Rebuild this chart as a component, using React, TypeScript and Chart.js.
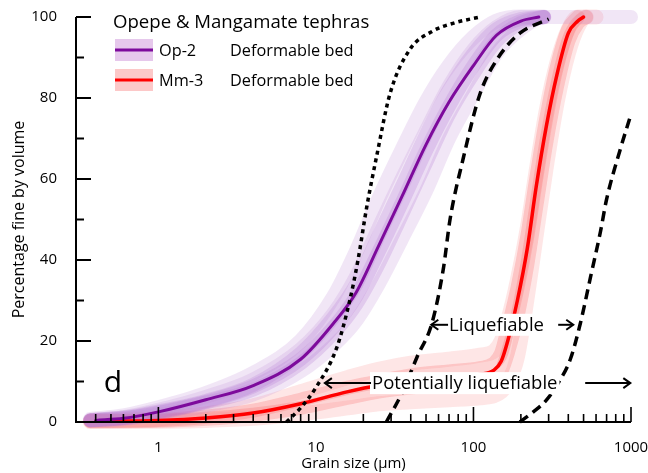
import React, { useEffect, useRef } from "react";
import { Chart, registerables } from "chart.js";
Chart.register(...registerables);

const FONT = "'Open Sans', 'DejaVu Sans', sans-serif";

// ---- axis settings ----
const X_MIN = 0.3;
const X_MAX = 1000;
const X_TICKS = [1, 10, 100, 1000];
const Y_MIN = 0;
const Y_MAX = 100;

// ---- Op-2 (purple) main curve ----
const OP2_X = [0.4, 0.6, 1, 2, 4, 8, 13, 18, 25, 35, 50, 70, 100, 140, 200, 260];
const OP2_Y = [0.4, 0.9, 2.5, 5.5, 9, 15.5, 24.5, 32, 43.5, 55.5, 68.5, 79, 88, 95.5, 99, 100];

// ---- Op-2 individual samples (light bands) ----
const OP2_SAMPLE_X = [0.37, 0.6, 1, 2, 4, 8, 13, 18, 25, 35, 50, 70, 100, 140, 200, 280];
const OP2_S1 = [0.6, 1.5, 3.5, 7, 12, 20, 31, 42, 55, 67, 79, 88, 95, 99, 100, 100];
const OP2_S2 = [0.5, 1.2, 3, 6.2, 10.5, 18, 27, 36, 48, 60, 72, 83, 92, 97.5, 100, 100];
const OP2_S3 = [0.4, 0.9, 2.2, 4.8, 8, 14.5, 22, 29, 39, 51, 64, 76, 86, 94, 98.5, 100];
const OP2_S4_X = [0.37, 0.6, 1, 2, 4, 8, 13, 18, 25, 35, 50, 70, 100, 140, 200, 280, 1000];
const OP2_S4 = [0.3, 0.7, 1.8, 4, 6.8, 12.5, 19, 25, 34, 45, 57, 70, 81, 91, 97, 100, 100];
const OP2_S5 = [0.5, 1.1, 2.6, 5.2, 9.2, 17, 26, 34, 46, 58, 71, 82, 91, 97, 99.5, 100];
const OP2_S6 = [0.4, 1.0, 2.4, 5, 8.8, 15.5, 23.5, 31, 42, 54, 67, 78, 88, 95.5, 99, 100];

// ---- Mm-3 (red) main curve ----
const MM3_X = [0.4, 1, 2, 4, 8, 16, 25, 40, 70, 110, 135, 150, 165, 190, 220, 250, 290, 340, 400, 460, 500];
const MM3_Y = [0.2, 0.4, 1.0, 2.2, 4.5, 7.5, 9, 10, 11, 11.8, 12.8, 15, 20, 30, 43, 58, 73, 86, 96, 99, 100];

// ---- Mm-3 individual samples (light bands) ----
const MM3_SAMPLE_X = [0.37, 1, 2, 4, 8, 16, 25, 40, 70, 110, 135, 150, 165, 190, 220, 250, 290, 340, 400, 460, 520, 600];
const MM3_S1 = [0.3, 0.8, 2, 4, 7.5, 11, 13, 14.5, 15.5, 16.5, 17.5, 20, 25, 35, 48, 62, 77, 89, 97, 100, 100, null];
const MM3_S2 = [0.1, 0.2, 0.4, 0.9, 2, 3.5, 4.5, 5, 5.5, 6, 6.5, 7.5, 9.5, 16, 31, 46, 63, 79, 91, 97.5, 100, 100];
const MM3_S3 = [0.3, 0.5, 1.3, 2.8, 5.5, 8.5, 10, 11.5, 12.5, 13.3, 14.5, 17, 23, 33, 46, 60, 75, 88, 97, 100, null, null];
const MM3_S4 = [0.2, 0.3, 0.8, 1.8, 3.5, 6, 7.5, 8.5, 9.3, 10, 10.8, 12.5, 17, 26, 39, 53, 69, 83, 94, 98.5, 100, null];

// ---- liquefaction boundary curves ----
const BOUND1_X = [6.5, 8, 10, 13.6, 16.4, 18.5, 21, 24.4, 29.5, 39.5, 55, 75, 110];
const BOUND1_Y = [0, 3.5, 8.5, 18.5, 30, 40, 53, 66, 81, 92, 96.5, 98.5, 100];
const BOUND2_X = [28, 35, 43.8, 54.6, 64.5, 71, 86, 110, 141, 197, 300];
const BOUND2_Y = [0, 7, 16, 24.5, 38, 50, 65, 81, 89.5, 96, 99.5];
const BOUND3_X = [197, 240, 292, 350, 412, 478, 555, 640, 700, 850, 1000];
const BOUND3_Y = [0, 2.5, 5.5, 10, 15.5, 24.5, 36, 47, 55, 67, 76];

// ---- annotations (data coordinates) ----
const LIQ_LABEL = "Liquefiable";
const LIQ_Y = 24;
const LIQ_LEFT_TIP = 54;
const LIQ_TEXT_X = 70;
const LIQ_RIGHT_START = 345;
const LIQ_RIGHT_TIP = 430;

const POT_LABEL = "Potentially liquefiable";
const POT_Y = 9.6;
const POT_LEFT_TIP = 11.4;
const POT_TEXT_X = 22.7;
const POT_RIGHT_START = 512;
const POT_RIGHT_TIP = 990;

const PANEL_LABEL = "d";
const LEGEND_TITLE = "Opepe & Mangamate tephras";
const LEGEND_NAMES = ["Op-2", "Mm-3"];
const LEGEND_DESC = ["Deformable bed", "Deformable bed"];

const PURPLE = "#7d0a9c";
const RED = "#ff0000";

function pts(xs: number[], ys: (number | null)[]) {
  return xs.map((x, i) => ({ x, y: ys[i] }));
}

function drawArrow(ctx: CanvasRenderingContext2D, x1: number, x2: number, y: number) {
  const dir = x2 > x1 ? 1 : -1;
  ctx.beginPath();
  ctx.moveTo(x1, y);
  ctx.lineTo(x2, y);
  ctx.stroke();
  ctx.beginPath();
  ctx.moveTo(x2 - dir * 7, y - 5);
  ctx.lineTo(x2, y);
  ctx.lineTo(x2 - dir * 7, y + 5);
  ctx.stroke();
}

const overlayPlugin = {
  id: "overlay",
  afterDatasetsDraw(chart: any) {
    const { ctx, scales } = chart;
    const xs = scales.x;
    const ys = scales.y;
    const X = (v: number) => xs.getPixelForValue(v);
    const Y = (v: number) => ys.getPixelForValue(v);
    ctx.save();

    // annotations
    ctx.font = `18.5px ${FONT}`;
    ctx.textBaseline = "middle";
    ctx.textAlign = "left";
    ctx.lineWidth = 2;
    ctx.strokeStyle = "#000";
    ctx.fillStyle = "#000";

    const drawLabel = (text: string, tx: number, ty: number) => {
      const w = ctx.measureText(text).width;
      ctx.fillStyle = "#fff";
      ctx.fillRect(tx - 2, ty - 11, w + 4, 22);
      ctx.fillStyle = "#000";
      ctx.fillText(text, tx, ty + 1);
      return w;
    };

    {
      const ty = Y(LIQ_Y);
      const tx = X(LIQ_TEXT_X);
      drawLabel(LIQ_LABEL, tx, ty);
      drawArrow(ctx, tx - 1, X(LIQ_LEFT_TIP), ty);
      drawArrow(ctx, X(LIQ_RIGHT_START), X(LIQ_RIGHT_TIP), ty);
    }
    {
      const ty = Y(POT_Y);
      const tx = X(POT_TEXT_X);
      drawLabel(POT_LABEL, tx, ty);
      drawArrow(ctx, tx - 1, X(POT_LEFT_TIP), ty);
      drawArrow(ctx, X(POT_RIGHT_START), X(POT_RIGHT_TIP), ty);
    }

    // axes
    const left = X(X_MIN);
    const right = X(X_MAX);
    const bottom = Y(Y_MIN);
    const top = Y(Y_MAX);
    ctx.strokeStyle = "#000";
    ctx.lineWidth = 2;
    ctx.lineCap = "butt";
    ctx.beginPath();
    ctx.moveTo(left, top);
    ctx.lineTo(left, bottom);
    ctx.lineTo(right, bottom);
    ctx.stroke();

    for (let v = Y_MIN; v <= Y_MAX; v += 10) {
      const len = v % 20 === 0 ? 15 : 8;
      const py = Y(v);
      ctx.beginPath();
      ctx.moveTo(left, py);
      ctx.lineTo(left + len, py);
      ctx.stroke();
    }
    ctx.lineWidth = 1.6;
    for (let e = -1; e <= 3; e++) {
      for (let m = 1; m <= 9; m++) {
        const v = m * Math.pow(10, e);
        if (v < X_MIN * 1.2 || v > X_MAX * 1.001) continue;
        const len = m === 1 ? 15 : 8;
        const px = X(v);
        ctx.beginPath();
        ctx.moveTo(px, bottom);
        ctx.lineTo(px, bottom - len);
        ctx.stroke();
      }
    }

    // panel label
    ctx.font = `30px ${FONT}`;
    ctx.textBaseline = "alphabetic";
    ctx.fillStyle = "#000";
    ctx.fillText(PANEL_LABEL, X(0.45), Y(10) + 10);

    // legend
    ctx.textBaseline = "middle";
    ctx.font = `18.6px ${FONT}`;
    ctx.fillText(LEGEND_TITLE, 113, 23);
    const rows = [
      { fill: "rgb(230,200,236)", line: PURPLE, y: 50 },
      { fill: "rgb(252,200,200)", line: RED, y: 80 },
    ];
    rows.forEach((r, i) => {
      ctx.fillStyle = r.fill;
      ctx.fillRect(115, r.y - 11, 38, 22);
      ctx.strokeStyle = r.line;
      ctx.lineWidth = 3;
      ctx.beginPath();
      ctx.moveTo(115, r.y);
      ctx.lineTo(153, r.y);
      ctx.stroke();
      ctx.fillStyle = "#000";
      ctx.font = `16.3px ${FONT}`;
      ctx.fillText(LEGEND_NAMES[i], 159, r.y + 1);
      ctx.fillText(LEGEND_DESC[i], 230, r.y + 1);
    });

    ctx.restore();
  },
};

export default function App() {
  const ref = useRef<HTMLCanvasElement>(null);
  useEffect(() => {
    document.body.style.margin = "0";
    if (!ref.current) return;

    const band = (xs: number[], ys: (number | null)[], color: string, width = 14) => ({
      data: pts(xs, ys),
      borderColor: color,
      backgroundColor: color,
      borderWidth: width,
      pointRadius: 0,
      borderCapStyle: "round",
      borderJoinStyle: "round",
      cubicInterpolationMode: "monotone",
      spanGaps: false,
      fill: false,
      clip: false,
      order: 3,
    });
    const line = (xs: number[], ys: number[], color: string, width: number, dash: number[] | undefined, order: number) => ({
      data: pts(xs, ys),
      borderColor: color,
      backgroundColor: color,
      borderWidth: width,
      borderDash: dash || [],
      pointRadius: 0,
      borderCapStyle: dash ? "butt" : "round",
      cubicInterpolationMode: "monotone",
      fill: false,
      clip: false,
      order,
    });

    const pLight = "rgba(190,140,215,0.22)";
    const pMid = "rgba(170,100,205,0.22)";
    const rLight = "rgba(250,130,130,0.2)";
    const rMid = "rgba(245,80,80,0.24)";

    const datasets: any[] = [
      line(BOUND1_X, BOUND1_Y, "#000", 3.5, [4, 4], 0),
      line(BOUND2_X, BOUND2_Y, "#000", 3.5, [10, 6], 0),
      line(BOUND3_X, BOUND3_Y, "#000", 3.5, [10, 6], 0),
      line(OP2_X, OP2_Y, PURPLE, 3, undefined, 1),
      line(MM3_X, MM3_Y, RED, 3.5, undefined, 1),
      band(OP2_SAMPLE_X, OP2_S1, pLight, 15),
      band(OP2_SAMPLE_X, OP2_S2, pLight),
      band(OP2_SAMPLE_X, OP2_S3, pMid),
      band(OP2_S4_X, OP2_S4, pLight),
      band(OP2_SAMPLE_X, OP2_S5, pMid),
      band(OP2_SAMPLE_X, OP2_S6, pMid),
      band(MM3_SAMPLE_X, MM3_S1, rLight, 15),
      band(MM3_SAMPLE_X, MM3_S2, rLight, 15),
      band(MM3_SAMPLE_X, MM3_S3, rMid),
      band(MM3_SAMPLE_X, MM3_S4, rMid),
    ];

    const chart = new Chart(ref.current, {
      type: "line",
      data: { datasets },
      options: {
        responsive: false,
        animation: false,
        events: [],
        layout: { padding: { left: 8, right: 17, top: 17, bottom: 0 } },
        plugins: { legend: { display: false }, tooltip: { enabled: false } },
        scales: {
          x: {
            type: "logarithmic",
            min: X_MIN,
            max: X_MAX,
            grid: { display: false },
            border: { display: false },
            ticks: {
              font: { family: FONT, size: 15 },
              color: "#000",
              padding: 9,
              autoSkip: false,
              maxRotation: 0,
              callback: (v: any) => String(v),
            },
            afterBuildTicks: (s: any) => {
              s.ticks = X_TICKS.map((v) => ({ value: v }));
            },
            afterFit: (s: any) => {
              s.height = 51;
              s.paddingLeft = 0;
              s.paddingRight = 0;
            },
            title: {
              display: true,
              text: "Grain size (µm)",
              font: { family: FONT, size: 15 },
              color: "#000",
              padding: { top: 2, bottom: 0 },
            },
          },
          y: {
            min: Y_MIN,
            max: Y_MAX,
            grid: { display: false },
            border: { display: false },
            ticks: {
              stepSize: 20,
              font: { family: FONT, size: 15 },
              color: "#000",
              padding: 11,
            },
            afterFit: (s: any) => {
              s.width = 68;
              s.paddingTop = 0;
              s.paddingBottom = 0;
            },
            title: {
              display: true,
              text: "Percentage fine by volume",
              font: { family: FONT, size: 16 },
              color: "#000",
              padding: { top: 2, bottom: 0 },
            },
          },
        },
      } as any,
      plugins: [overlayPlugin],
    });
    return () => chart.destroy();
  }, []);

  return (
    <div style={{ width: 648, height: 473 }}>
      <canvas ref={ref} width={648} height={473} style={{ display: "block" }} />
    </div>
  );
}
